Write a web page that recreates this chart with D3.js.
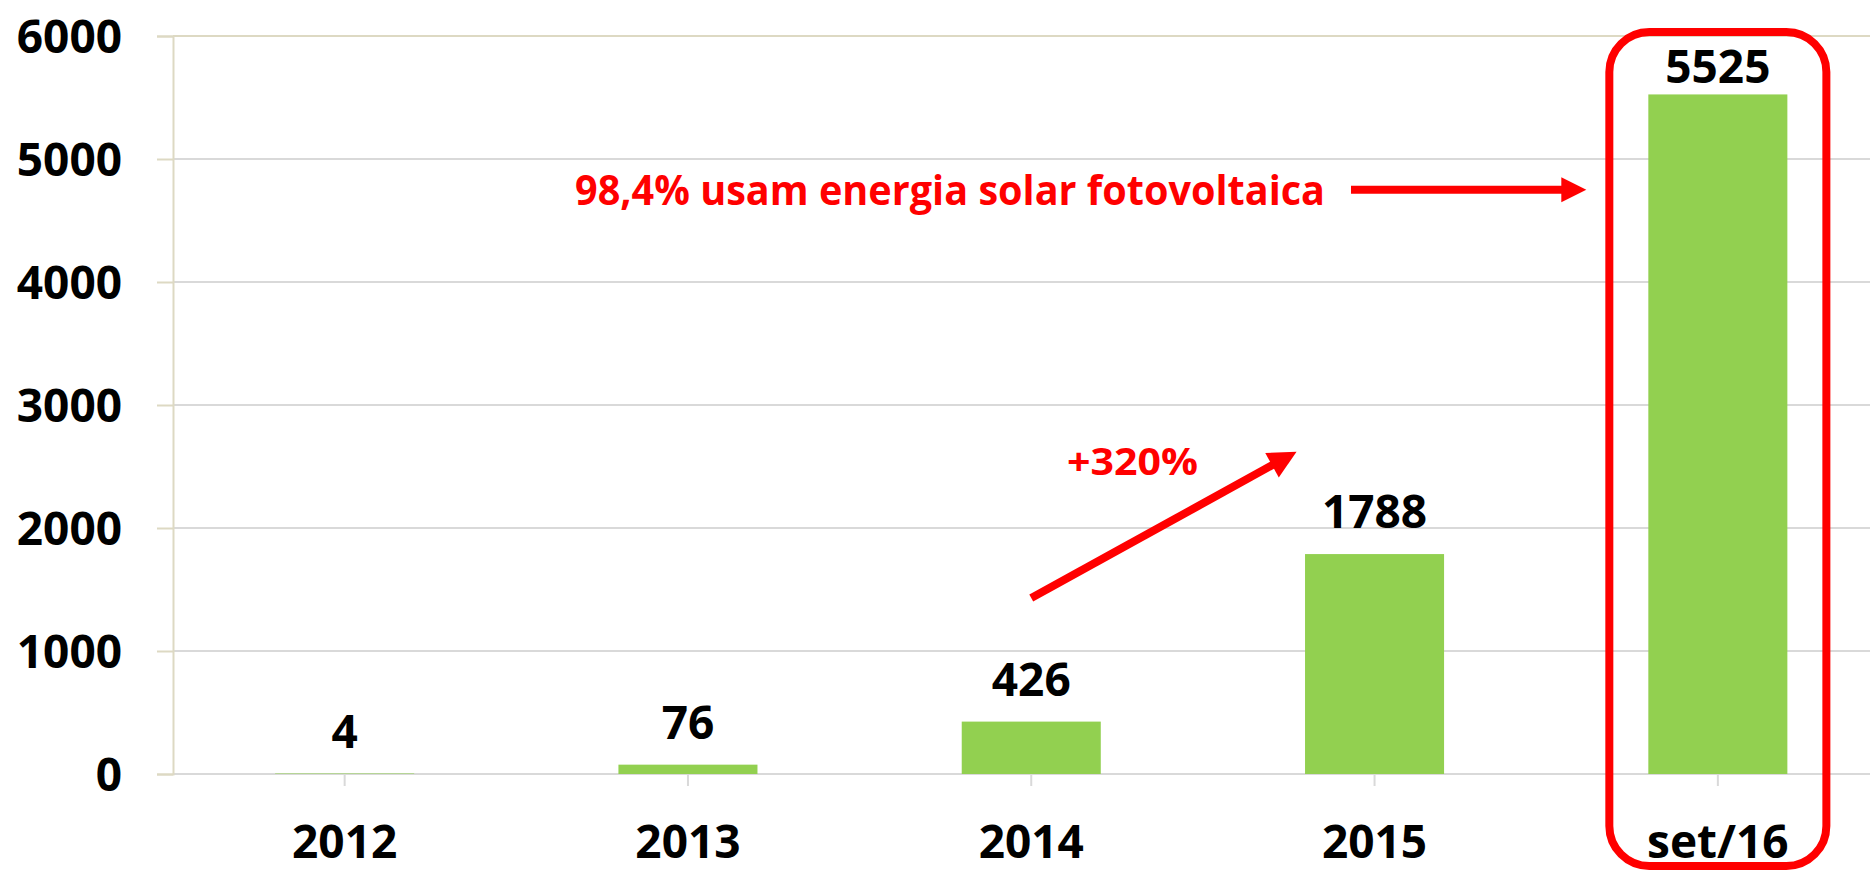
<!DOCTYPE html>
<html>
<head>
<meta charset="utf-8">
<script src="https://cdn.jsdelivr.net/npm/d3@7"></script>
<style>
  body { margin: 0; background: #fff; }
  text { font-family: "Open Sans", "Liberation Sans", sans-serif; font-weight: 700; }
</style>
</head>
<body>
<svg id="chart"></svg>
<script>
// Chart values
const categories = ["2012", "2013", "2014", "2015", "set/16"];
const values = [4, 76, 426, 1788, 5525];
const yTicks = [0, 1000, 2000, 3000, 4000, 5000, 6000];

const width = 1870;
const height = 872;

const svg = d3.select("#chart")
  .attr("width", width)
  .attr("height", height);

const x = d3.scaleBand()
  .domain(categories)
  .range([173, 1889.5])
  .paddingInner(0.595)
  .paddingOuter(0.2975);

const y = d3.scaleLinear()
  .domain([0, 6000])
  .range([774, 36]);

// Gridlines
svg.selectAll(".grid")
  .data(yTicks)
  .enter()
  .append("line")
  .attr("class", "grid")
  .attr("x1", 173)
  .attr("x2", width)
  .attr("y1", d => y(d))
  .attr("y2", d => y(d))
  .style("stroke", d => d === 6000 ? "#ddd9c3" : "#d9d9d9")
  .style("stroke-width", 2);

// Y axis (beige line with ticks to the left)
const yAxis = svg.append("g")
  .attr("transform", "translate(173,0)")
  .call(d3.axisLeft(y).tickValues(yTicks).tickSize(16).tickFormat(""));
yAxis.selectAll("path, line")
  .style("stroke", "#ddd9c3")
  .style("stroke-width", 2);

svg.selectAll(".ylab")
  .data(yTicks)
  .enter()
  .append("text")
  .attr("class", "ylab")
  .attr("x", 122)
  .attr("y", d => y(d))
  .attr("dy", "0.36em")
  .style("text-anchor", "end")
  .style("font-size", "46px")
  .text(d => d);

// Bars
svg.selectAll(".bar")
  .data(values)
  .enter()
  .append("rect")
  .attr("class", "bar")
  .attr("x", (d, i) => x(categories[i]))
  .attr("width", x.bandwidth())
  .attr("y", d => y(d))
  .attr("height", d => y(0) - y(d))
  .style("fill", "#92d050");

// X axis (gray baseline, ticks downward)
const xAxis = svg.append("g")
  .attr("transform", `translate(0,${y(0)})`)
  .call(d3.axisBottom(x).tickSize(12).tickSizeOuter(0).tickFormat(""));
xAxis.select("path").remove();
xAxis.selectAll("line")
  .style("stroke", "#d9d9d9")
  .style("stroke-width", 2);

svg.selectAll(".xlab")
  .data(categories)
  .enter()
  .append("text")
  .attr("class", "xlab")
  .attr("x", d => x(d) + x.bandwidth() / 2)
  .attr("y", 858)
  .style("text-anchor", "middle")
  .style("font-size", "46px")
  .text(d => d);

// Value labels (clamped under the top of the plot)
svg.selectAll(".vlab")
  .data(values)
  .enter()
  .append("text")
  .attr("class", "vlab")
  .attr("x", (d, i) => x(categories[i]) + x.bandwidth() / 2)
  .attr("y", d => Math.max(y(d) - 26, y(6000) + 47))
  .style("text-anchor", "middle")
  .style("font-size", "46px")
  .text(d => d);

// Annotations
const red = "#ff0000";

function arrow(x1, y1, x2, y2, head) {
  const a = Math.atan2(y2 - y1, x2 - x1);
  const bx = x2 - head * Math.cos(a);
  const by = y2 - head * Math.sin(a);
  svg.append("line")
    .attr("x1", x1).attr("y1", y1)
    .attr("x2", bx + 2 * Math.cos(a)).attr("y2", by + 2 * Math.sin(a))
    .style("stroke", red)
    .style("stroke-width", 8);
  const w = head / 2;
  svg.append("path")
    .attr("d", `M${x2},${y2}L${bx + w * Math.sin(a)},${by - w * Math.cos(a)}L${bx - w * Math.sin(a)},${by + w * Math.cos(a)}Z`)
    .style("fill", red);
}

const last = categories[categories.length - 1];
const yAnn = y(4750);

svg.append("text")
  .attr("x", 575)
  .attr("y", yAnn + 15)
  .attr("textLength", 750)
  .attr("lengthAdjust", "spacingAndGlyphs")
  .style("font-size", "42px")
  .style("fill", red)
  .text("98,4% usam energia solar fotovoltaica");

arrow(1351, yAnn, x(last) - 62, yAnn, 25);

const c2014 = x("2014") + x.bandwidth() / 2;
const c2015 = x("2015") + x.bandwidth() / 2;
arrow(c2014, y(1430), c2015 - 78, y(2620), 28);

svg.append("text")
  .attr("x", 1067)
  .attr("y", 475)
  .attr("textLength", 131)
  .attr("lengthAdjust", "spacingAndGlyphs")
  .style("font-size", "38px")
  .style("fill", red)
  .text("+320%");

// Highlight box around the last bar
svg.append("rect")
  .attr("x", x(last) - 39)
  .attr("y", 32)
  .attr("width", x.bandwidth() + 78)
  .attr("height", 834)
  .attr("rx", 40)
  .style("fill", "none")
  .style("stroke", red)
  .style("stroke-width", 8);
</script>
</body>
</html>
